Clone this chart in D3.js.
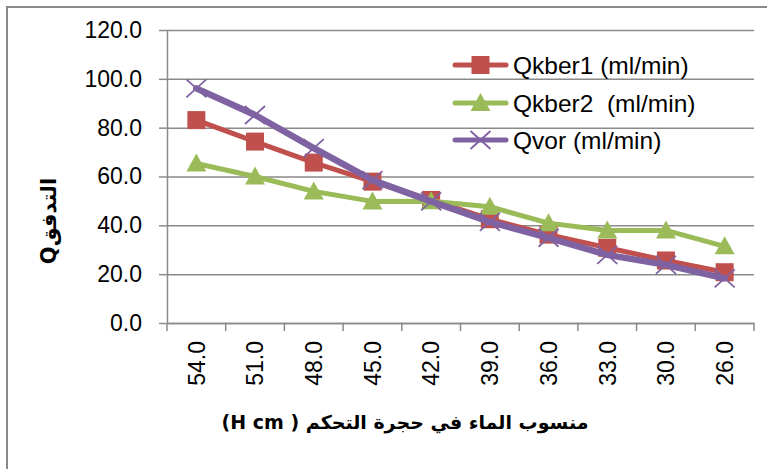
<!DOCTYPE html>
<html>
<head>
<meta charset="utf-8">
<script src="https://cdn.jsdelivr.net/npm/d3@7"></script>
<style>
    body { margin: 0; background: #fff; }
    svg { display: block; font-family: "Liberation Sans", Arial, sans-serif; }
    .grid line { stroke: #8a8a8a; stroke-width: 1.5; }
    .axis path, .axis line { stroke: #8a8a8a; stroke-width: 1.5; }
    .axis text { fill: #000; font-size: 23px; }
    .legend text { white-space: pre; }
</style>
</head>
<body>
<svg id="chart" width="767" height="469"></svg>
<script>
// water level categories (H cm)
const levels = ["54.0", "51.0", "48.0", "45.0", "42.0", "39.0", "36.0", "33.0", "30.0", "26.0"];
const yTicks = [0, 20, 40, 60, 80, 100, 120];

// series values
const qkber1 = [83.1, 74.3, 65.7, 57.9, 50.4, 42.5, 36.2, 30.8, 25.6, 20.8];
const qkber2 = [65.3, 60.0, 53.9, 49.8, 49.9, 47.6, 40.9, 37.9, 37.9, 31.4];
const qvor = [96.1, 85.2, 71.6, 58.5, 49.8, 41.4, 34.9, 27.9, 23.8, 18.3];

const seriesNames = ["Qkber1 (ml/min)", "Qkber2  (ml/min)", "Qvor (ml/min)"];

const series = [
    { name: seriesNames[0], values: qkber1, color: "#C0504D", width: 5, marker: "square" },
    { name: seriesNames[1], values: qkber2, color: "#9BBB59", width: 5, marker: "triangle" },
    { name: seriesNames[2], values: qvor, color: "#7F62A1", width: 6.5, marker: "cross" }
];

const plotLeft = 167, plotRight = 754, plotTop = 30, plotBottom = 323;

const svg = d3.select("#chart");

// outer chart border (right and bottom edges fall outside the picture)
svg.append("rect")
    .attr("x", 7).attr("y", 7)
    .attr("width", 800).attr("height", 500)
    .attr("fill", "none")
    .attr("stroke", "#8a8a8a")
    .attr("stroke-width", 2);

const x = d3.scaleBand().domain(levels).range([plotLeft, plotRight]).padding(0);
const y = d3.scaleLinear().domain([0, 120]).range([plotBottom, plotTop]);

// horizontal gridlines
svg.append("g")
    .attr("class", "grid")
    .attr("transform", `translate(${plotLeft}, 0)`)
    .call(d3.axisLeft(y).tickValues(yTicks).tickSize(-(plotRight - plotLeft)).tickFormat(""))
    .call(g => g.select(".domain").remove());

// y-axis
svg.append("g")
    .attr("class", "axis")
    .attr("transform", `translate(${plotLeft}, 0)`)
    .call(d3.axisLeft(y).tickValues(yTicks).tickSize(8).tickSizeOuter(0).tickPadding(17).tickFormat(d3.format(".1f")));

// x-axis with rotated labels
svg.append("g")
    .attr("class", "axis")
    .attr("transform", `translate(0, ${plotBottom})`)
    .call(d3.axisBottom(x).tickSize(0).tickSizeOuter(0))
    .call(g => g.selectAll("text")
        .attr("transform", "rotate(-90)")
        .attr("x", -18)
        .attr("y", 0)
        .attr("dy", "0.36em")
        .attr("text-anchor", "end"));

// x tick marks sit on the band edges
const edges = levels.map(d => x(d)).concat([x(levels[levels.length - 1]) + x.bandwidth()]);
svg.append("g")
    .selectAll("line")
    .data(edges)
    .join("line")
    .attr("x1", d => d).attr("x2", d => d)
    .attr("y1", plotBottom).attr("y2", plotBottom + 8)
    .attr("stroke", "#8a8a8a")
    .attr("stroke-width", 1.5);

function drawMarker(g, type, color) {
    if (type === "square") {
        g.append("rect")
            .attr("x", -9).attr("y", -9)
            .attr("width", 18).attr("height", 18)
            .attr("fill", color);
    } else if (type === "triangle") {
        g.append("path")
            .attr("d", "M0,-10 L10,8 L-10,8 Z")
            .attr("fill", color);
    } else {
        g.append("path")
            .attr("d", "M-10,-9 L10,9 M-10,9 L10,-9")
            .attr("stroke", color)
            .attr("stroke-width", 1.8)
            .attr("fill", "none");
    }
}

const line = d3.line()
    .x((d, i) => x(levels[i]) + x.bandwidth() / 2)
    .y(d => y(d));

series.forEach(s => {
    const g = svg.append("g");
    g.append("path")
        .datum(s.values)
        .attr("d", line)
        .attr("fill", "none")
        .attr("stroke", s.color)
        .attr("stroke-width", s.width)
        .attr("stroke-linejoin", "round")
        .attr("stroke-linecap", "round");
    g.selectAll("g.mk")
        .data(s.values)
        .join("g")
        .attr("class", "mk")
        .attr("transform", (d, i) => `translate(${x(levels[i]) + x.bandwidth() / 2}, ${y(d)})`)
        .each(function () { drawMarker(d3.select(this), s.marker, s.color); });
});

// legend
const legendRows = [65, 103, 140];
series.forEach((s, i) => {
    const g = svg.append("g").attr("class", "legend").attr("transform", `translate(453, ${legendRows[i]})`);
    g.append("line")
        .attr("x1", 2).attr("x2", 53)
        .attr("stroke", s.color)
        .attr("stroke-width", 5)
        .attr("stroke-linecap", "round");
    const m = g.append("g").attr("transform", "translate(27.5, 0)");
    drawMarker(m, s.marker, s.color);
    g.append("text")
        .attr("x", 60)
        .attr("dy", "0.36em")
        .attr("font-size", "24.5px")
        .text(s.name);
});

// axis titles
svg.append("text")
    .attr("x", 405)
    .attr("y", 422)
    .attr("dy", "0.36em")
    .attr("text-anchor", "middle")
    .attr("direction", "rtl")
    .attr("font-weight", "bold")
    .attr("font-size", "19px")
    .attr("font-family", "'DejaVu Sans', sans-serif")
    .text("منسوب الماء في حجرة التحكم ( H cm)");

svg.append("text")
    .attr("transform", "translate(48, 221) rotate(-90)")
    .attr("dy", "0.36em")
    .attr("text-anchor", "middle")
    .attr("font-weight", "bold")
    .attr("font-size", "21px")
    .attr("font-family", "'DejaVu Sans', sans-serif")
    .text("Qالتدفق");
</script>
</body>
</html>
